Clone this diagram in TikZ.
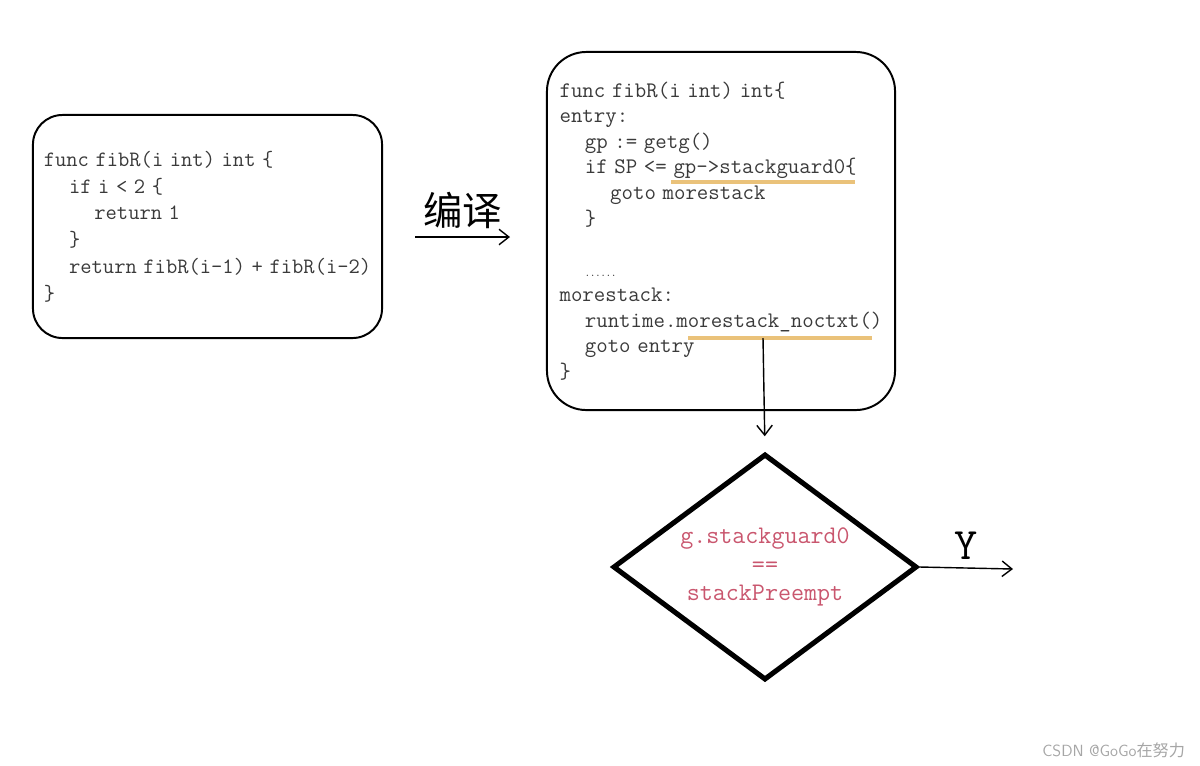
\documentclass[tikz,border=0pt]{standalone}
\usepackage{fontspec}
\newfontfamily\cjk{Noto Sans CJK SC}
\usetikzlibrary{arrows.meta,shapes.geometric}
\definecolor{codegray}{HTML}{3A3A3A}
\definecolor{condred}{HTML}{C9566E}
\definecolor{markgold}{HTML}{EAC27A}
\newcommand\ind{\hspace*{18pt}}
\protected\def\narrowspace{\spaceskip=0.3em\relax}
\tikzset{
  codebox/.style={draw,line width=1.4pt,align=left,text=codegray,
    font=\ttfamily\fontsize{15.6pt}{19pt}\selectfont\narrowspace},
  markline/.style={markgold,line width=2.8pt},
  decision/.style={diamond,aspect=1.34,draw,line width=3.6pt,inner sep=0pt,
    minimum width=7.6cm,minimum height=5.65cm,align=center,text=condred,
    font=\ttfamily\fontsize{18pt}{20.5pt}\selectfont}
}
\begin{document}
\begin{tikzpicture}[x=0.025cm,y=-0.025cm,>={Straight Barb[length=7pt,width=11pt]}]
  \useasboundingbox (0,0) rectangle (1200,765);
  % source function
  \node[codebox,rounded corners=21pt,minimum width=8.725cm,minimum height=5.575cm] (srcbox) at (207.5,226.5)
    {func fibR(i int) int \{\\
     \ind if i < 2 \{\\
     \ind\ind return 1\\
     \ind \}\\
     \ind return fibR(i-1) + fibR(i-2)\\
     \}};
  % compiled function
  \node[codebox,rounded corners=28pt,minimum width=8.7cm,minimum height=8.95cm,
    font=\ttfamily\fontsize{15.8pt}{18.2pt}\selectfont\narrowspace] (asmbox) at (721,231)
    {func fibR(i int) int\{\\
     entry:\\
     \ind gp := getg()\\
     \ind if SP <= gp->stackguard0\{\\
     \ind\ind goto morestack\\
     \ind \}\\
     \mbox{}\\
     \ind {\fontsize{7pt}{7pt}\selectfont ......}\\
     morestack:\\
     \ind runtime.morestack\_noctxt()\\
     \ind goto entry\\
     \}};
  \draw[markline] (671,182) -- (855,182);
  \draw[markline] (688,338) -- (872,338);
  % compile arrow
  \coordinate (cstart) at (415,237);
  \coordinate (cend) at (510,237);
  \draw[->,line width=1pt] (cstart) -- node[above=2pt,font=\cjk\fontsize{28pt}{30pt}\selectfont]{编译} (cend);
  % preemption check
  \node[decision] (check) at (765,567) {g.stackguard0\\==\\stackPreempt};
  \coordinate (tap) at (763,338);
  \draw[->,line width=1pt,shorten >=0.38cm] (tap) -- (check.north);
  \coordinate (yes) at (1013,569);
  \draw[->,line width=1pt] (check.east) -- node[above=2pt,font=\ttfamily\fontsize{32pt}{32pt}\selectfont]{Y} (yes);
  \node[text=gray!70,font=\sffamily\fontsize{11.5pt}{12pt}\selectfont,anchor=east] (mark) at (1190,750)
    {CSDN @GoGo{\cjk 在努力}};
\end{tikzpicture}
\end{document}
